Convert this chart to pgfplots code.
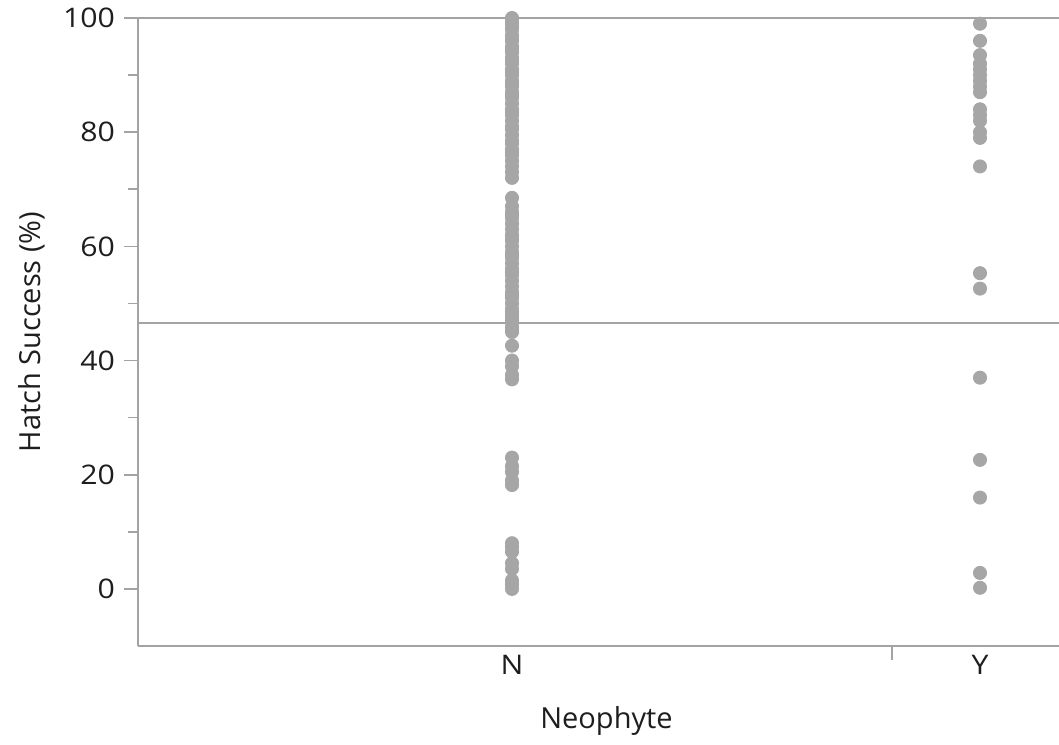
\documentclass[border=0pt]{standalone}
\usepackage{pgfplots}
\pgfplotsset{compat=1.18}
\usepackage{fontspec}
\setmainfont{Open Sans}
\newfontfamily\tickfont[FakeStretch=1.12]{Open Sans}
\definecolor{axgray}{HTML}{A3A3A3}
\definecolor{dotgray}{HTML}{A6A6A6}
\definecolor{txt}{HTML}{1E1E1E}
\begin{document}
\begin{tikzpicture}
\begin{axis}[
  name=ax,
  scale only axis,
  width=460.5pt, height=314pt,
  xmin=138, xmax=1059,
  ymin=-10, ymax=100,
  separate axis lines,
  axis x line*=box,
  axis y line*=left,
  xtick pos=left,
  ytick pos=left,
  axis line style={axgray, line width=1pt},
  every tick/.style={axgray, line width=0.8pt},
  ytick={0,20,40,60,80,100},
  minor ytick={10,30,50,70,90},
  major tick length=7pt,
  minor tick length=5pt,
  tick align=outside,
  xtick={892},
  xticklabels={},
  extra x ticks={512,980},
  extra x tick labels={N,Y},
  extra x tick style={major tick length=0pt, xticklabel style={yshift=-1pt}},
  font=\fontsize{14.5pt}{17pt}\selectfont,
  ticklabel style={txt, font=\fontsize{13.5pt}{16pt}\tickfont},
  yticklabel style={xshift=-1pt},
  /pgf/number format/assume math mode=true,
  xlabel={Neophyte},
  ylabel={Hatch Success (\%)},
  label style={txt},
  xlabel style={yshift=-2pt, xshift=4pt},
  ylabel style={yshift=2pt},
  clip=false,
]
\addplot[no marks, axgray, line width=1pt] coordinates {(138,46.5) (1059,46.5)};
\addplot[only marks, mark=*, mark size=3.3pt, draw=dotgray, fill=dotgray, mark options={draw=dotgray, fill=dotgray}] coordinates {
(512,100) (512,99.5) (512,99) (512,98.5) (512,98) (512,97) (512,96.5) (512,96)
(512,95) (512,94.5) (512,94) (512,93) (512,92.5) (512,92) (512,91) (512,90.5)
(512,90) (512,89) (512,88.5) (512,88) (512,87) (512,86.5) (512,86) (512,85)
(512,84) (512,83.5) (512,83) (512,82) (512,81) (512,80.5) (512,79.5) (512,78.5)
(512,78) (512,77) (512,76.5) (512,76) (512,75) (512,74) (512,73) (512,72)
(512,68.5) (512,67) (512,66) (512,65.5) (512,65) (512,64) (512,63) (512,62)
(512,61.5) (512,61) (512,60) (512,59) (512,58.5) (512,58) (512,57) (512,56)
(512,55.5) (512,55) (512,54) (512,53) (512,52) (512,51.5) (512,51) (512,50)
(512,49) (512,48.5) (512,48) (512,47.5) (512,47) (512,46) (512,45.5) (512,45)
(512,42.6) (512,40) (512,39) (512,37.5) (512,36.7)
(512,23) (512,21.5) (512,20.5) (512,19) (512,18.2)
(512,8) (512,7.3) (512,6.5) (512,4.5) (512,3.5) (512,1.5) (512,0.8) (512,0)
};
\addplot[only marks, mark=*, mark size=3.3pt, draw=dotgray, fill=dotgray, mark options={draw=dotgray, fill=dotgray}] coordinates {
(980,99) (980,96) (980,93.5) (980,92) (980,91) (980,90) (980,89) (980,88)
(980,87) (980,84) (980,83) (980,82) (980,80) (980,79) (980,74)
(980,55.3) (980,52.6) (980,37) (980,22.6) (980,16) (980,2.8) (980,0.2)
};
\end{axis}
\pgfresetboundingbox
\path[use as bounding box] ([xshift=-69pt,yshift=-49pt]ax.south west) rectangle ([yshift=9pt]ax.north east);
\end{tikzpicture}
\end{document}
